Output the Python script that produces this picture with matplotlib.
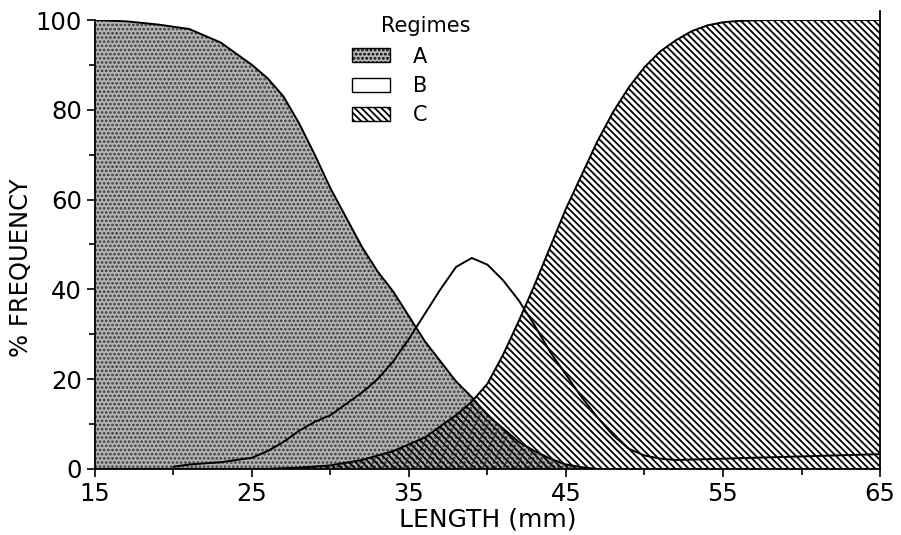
import numpy as np
import matplotlib
matplotlib.use("Agg")
import matplotlib.pyplot as plt
from matplotlib.patches import Patch

# Regime A (decreasing)
a_len = [15, 17, 19, 21, 23, 25, 26, 27, 28, 29, 30, 31, 32, 33, 34, 35, 36, 37, 38, 39, 40, 41, 42, 43, 44, 45, 46, 47, 65]
a_pct = [100, 99.7, 99, 98, 95, 90, 87, 83, 77, 70, 62.5, 56, 49.5, 44, 39.5, 34, 28.5, 24, 19.5, 16, 12, 9, 6, 4, 2.3, 1, 0.4, 0, 0]

# Regime B (bell)
b_len = [20, 21, 23, 25, 26, 27, 28, 29, 30, 31, 32, 33, 34, 35, 36, 37, 38, 39, 40, 41, 42, 43, 44, 45, 46, 47, 48, 49, 50, 51, 52, 55, 60, 65]
b_pct = [0.5, 1, 1.5, 2.5, 4, 6, 8.5, 10.5, 12, 14.5, 17, 20, 24, 29, 34.5, 40, 45, 47, 45.5, 42, 37.5, 32, 26, 21, 16, 11.5, 7.5, 4.5, 3, 2.3, 2, 2.3, 2.8, 3.3]

# Regime C (increasing)
c_len = [15, 26, 28, 30, 32, 34, 36, 37, 38, 39, 40, 41, 42, 43, 44, 45, 46, 47, 48, 49, 50, 51, 52, 53, 54, 55, 56, 58, 65]
c_pct = [0, 0, 0.3, 0.8, 2, 4, 7, 9.5, 12, 15, 19, 25.5, 33, 41, 49.5, 58, 65.5, 73, 79.5, 85, 89.5, 93, 95.5, 97.5, 98.8, 99.5, 99.8, 100, 100]

x_ticks = [15, 25, 35, 45, 55, 65]
y_ticks = [0, 20, 40, 60, 80, 100]
legend_labels = ['A', 'B', 'C']

plt.rcParams['hatch.linewidth'] = 1.3
fig = plt.figure(figsize=(9.01, 5.35), dpi=100)
ax = fig.add_axes([0.1054, 0.1234, 0.8713, 0.8392])

hatch_a = '....'
hatch_c = '\\' * 5

ax.fill_between(a_len, a_pct, 0, facecolor='#b4b4b4', edgecolor='#3a3a3a', hatch=hatch_a, linewidth=0)
ax.plot(a_len, a_pct, color='black', lw=1.4)
ax.fill_between(c_len, c_pct, 0, facecolor='none', edgecolor='black', hatch=hatch_c, linewidth=0)
ax.plot(c_len, c_pct, color='black', lw=1.4)
ax.plot(b_len, b_pct, color='black', lw=1.4)

ax.set_xlim(15, 65)
ax.set_ylim(0, 100)
ax.set_xticks(x_ticks)
ax.set_xticks([20, 30, 40, 50, 60], minor=True)
ax.set_yticks(y_ticks)
ax.set_yticks([10, 30, 50, 70, 90], minor=True)
ax.tick_params(which='major', length=6, width=1.2, labelsize=17.5, direction='out')
ax.tick_params(which='minor', length=4, width=1.2, direction='out')
ax.spines['top'].set_visible(False)
for s in ['left', 'right', 'bottom']:
    ax.spines[s].set_linewidth(1.3)
ax.spines['right'].set_bounds(0, 102)

ax.set_xlabel('LENGTH (mm)', fontsize=18, labelpad=1)
ax.set_ylabel('% FREQUENCY', fontsize=17.5)
ax.yaxis.set_label_coords(-0.079, 0.448)

handles = [
    Patch(facecolor='#b4b4b4', edgecolor='black', hatch=hatch_a, label=legend_labels[0]),
    Patch(facecolor='white', edgecolor='black', label=legend_labels[1]),
    Patch(facecolor='white', edgecolor='black', hatch=hatch_c, label=legend_labels[2]),
]
leg = ax.legend(handles=handles, loc='upper left',
                bbox_to_anchor=(0.374, 0.94), bbox_transform=fig.transFigure,
                frameon=False, fontsize=15,
                handlelength=1.85, handleheight=0.65, labelspacing=0.45, handletextpad=1.1,
                borderpad=0.2)
fig.text(0.472, 0.952, 'Regimes', ha='center', va='center', fontsize=15)

fig.savefig('out.png', dpi=100)
